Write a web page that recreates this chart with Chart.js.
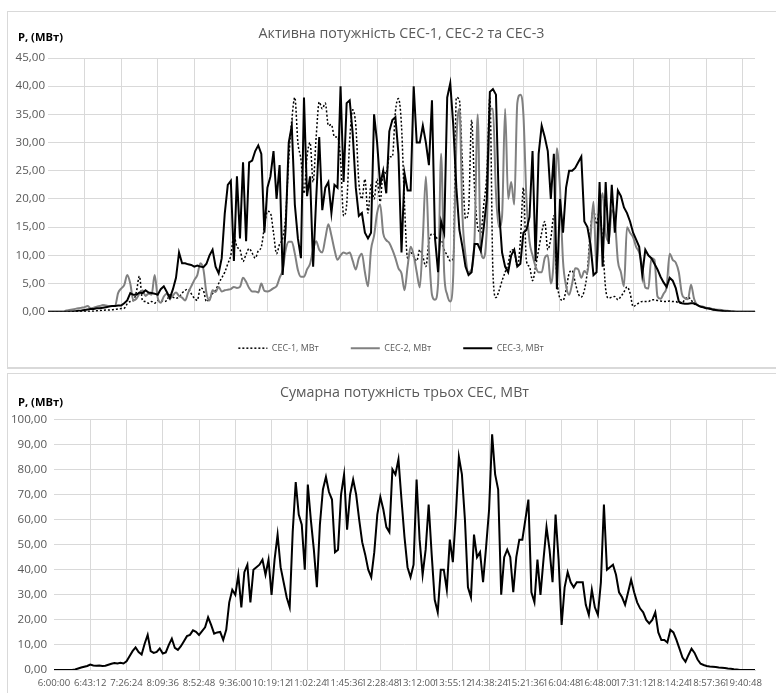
<!DOCTYPE html>
<html><head><meta charset="utf-8">
<script src="https://cdn.jsdelivr.net/npm/chart.js@4.4.1/dist/chart.umd.min.js"></script>
<style>
html,body{margin:0;padding:0;background:#fff;overflow:hidden;width:776px;height:693px;position:relative;}
.box{position:absolute;box-sizing:border-box;border:1px solid #d9d9d9;border-right:none;}
#b1{left:7px;top:11px;width:800px;height:358px;border-bottom-width:2px;}
#b2{left:7px;top:373px;width:800px;height:400px;border-bottom:none;}
canvas{position:absolute;left:0;}
#c1{top:0;}
#c2{top:372px;}
</style></head><body>
<div class="box" id="b1"></div><div class="box" id="b2"></div>
<canvas id="c1" width="790" height="367"></canvas>
<canvas id="c2" width="776" height="321"></canvas>
<script>
// ---------- data (one reading every 3.6 min from 6:00:00) ----------
const tickLabels = ['6:00:00','6:43:12','7:26:24','8:09:36','8:52:48','9:36:00','10:19:12','11:02:24','11:45:36','12:28:48','13:12:00','13:55:12','14:38:24','15:21:36','16:04:48','16:48:00','17:31:12','18:14:24','18:57:36','19:40:48'];
const seriesNames = ['СЕС-1, МВт','СЕС-2, МВт','СЕС-3, МВт'];
const topTitle = 'Активна потужність СЕС-1, СЕС-2 та СЕС-3';
const bottomTitle = 'Сумарна потужність трьох СЕС, МВт';
const unitText = 'P, (МВт)';

const ses1 = [
 0,0,0,0,0,0,0,0,0,0,0,0,
 0,0.05,0.1,0.1,0.15,0.2,0.25,0.3,0.3,0.35,0.4,0.5,
 0.55,0.6,1.4,1.8,2.0,3.5,6.3,2.0,1.8,1.5,1.8,1.5,
 2.0,2.0,1.8,2.0,3.0,2.6,2.4,2.6,3.3,3.8,4.0,3.2,
 2.4,2.0,4.2,3.8,1.8,2.3,3.2,3.8,5.0,6.0,7.0,8.5,
 10.0,13.5,11.5,11,8.9,10.2,11.2,10.4,9.5,10.8,11.5,15,
 17.8,17.5,14,10.3,12,13,17,27,34,38,30,27,
 21,27.5,30,23,31,37.2,36,37,33,33.2,31,31,
 27,17,19,30.4,35.8,33,23,20,23.5,17.5,22.5,20,
 23.5,19.5,25,24.5,27.5,27.5,35.5,37.8,33,18.9,9.5,10.5,
 9.8,9,11,9.8,8,12.5,13.8,13.6,12.8,12.8,11,10,
 9,9.5,38,37.5,26,16.5,18,34,21.5,15,14,19,
 24.5,38,7,2.5,3.7,5.5,7,8.5,11,10.8,8,12.5,
 22,9,8,5.5,8,11,14,16,11,13,17,6,
 2.4,2,3.8,6.8,7.3,5.2,3.2,2.6,3.8,7.3,14.5,18,
 15.5,18,12,4,2.4,2.6,2.7,2.1,2.7,3.5,4.4,3.3,
 0.9,1.2,1.6,1.8,1.8,1.8,2.1,2.1,2.0,1.9,1.8,1.8,
 1.9,1.8,1.8,1.5,1.5,2.2,2.6,2.1,1.4,1.2,0.9,0.8,
 0.6,0.5,0.4,0.3,0.25,0.2,0.15,0.1,0.1,0.05,0,0,
 0,0,0,0,0
];
const ses2 = [
 0,0,0,0,0,0,0.2,0.3,0.4,0.5,0.6,0.7,
 0.8,1.0,0.6,0.7,0.9,1.0,1.2,1.1,1.0,1.0,1.0,3.3,
 4.1,4.7,6.5,5.0,2.0,2.3,3.2,3.8,2.8,3.2,3.0,6.5,
 2.5,1.6,2.7,3.2,2.3,2.9,3.4,2.8,2.5,2.0,3.4,4.5,
 5.6,6.5,8.6,7.5,3.3,2.0,3.8,3.5,4.4,3.6,3.8,3.9,
 4.0,4.4,4.2,4.4,6.0,5.3,4.2,3.6,3.6,3.4,5.0,3.7,
 3.6,3.8,4.2,4.5,6,7.4,11,12.4,12.4,10.3,7.4,6.2,
 6.2,7.5,8.5,11,12.5,11,10.5,13,15.5,13.5,11,9.2,
 10,10.5,10.3,10.5,9,7.5,9.5,10.3,7,4.5,11,13.5,
 17.5,19,13.9,12.7,12.2,11,9.5,7.7,6.8,3.8,8,11.5,
 10,7,4.3,13,24,11,3,2.1,5,28,7,3,
 1.8,6.8,30,36,17,10,7,7.5,13.5,35,11,9.5,
 15,36,36,21,15,17,36,20,23,19,37,38.5,
 35,20,12.5,10,8,7,7,9.5,10,5,10,29,
 22,9,4.6,3,5,7.7,7.5,6,7.2,6.8,13,19.5,
 7.5,16.5,21,14,12.5,18,16.5,9,7,4.5,15,14,
 13.2,11.5,10.5,8,4.3,4.1,9.5,9.2,2.7,2.3,3.2,4.4,
 10.3,9.2,8.7,7,3.2,2.4,2.2,4.8,2.3,1.2,1.0,0.9,
 0.7,0.6,0.5,0.4,0.35,0.3,0.2,0.15,0.1,0.05,0,0,
 0,0,0,0,0
];
const ses3 = [
 0,0,0,0,0,0,0,0,0.05,0.1,0.15,0.2,
 0.3,0.4,0.5,0.5,0.6,0.6,0.7,0.8,0.9,1.0,1.0,1.1,
 1.1,1.5,2.0,3.3,3.0,3.0,3.4,3.3,3.8,3.4,3.3,3.2,
 3.0,4.0,4.5,3.5,2.4,4.0,6.0,10.5,8.6,8.6,8.4,8.3,
 8.0,8.2,8.0,7.9,8.5,10.0,11.0,8.0,6.8,9.5,17.4,22.5,
 23.2,9.0,24.0,13.0,26.5,12.5,26.5,26.8,28.5,29.5,28.0,14.0,
 22,24,28.5,20,26,6.5,15,30,33,19,13,9.5,
 38,20.5,24,8,20,31,18,22,23,17.5,22.5,22,
 40,23,37,37.5,31.5,22,17,17.5,14,13,14,35,
 30,22.5,25,21,32,34,34.5,28,10.5,24.5,21.5,21.5,
 40,30,30,33,30,26,37.5,13,7,16,14,38,
 40.5,33,22,14.5,11.5,8,6.5,7,12,12,10.8,15,
 20,39,39.5,38.5,18,10.5,8,7,10,11,8,8.5,
 14,14.5,16.8,28.5,9,28,33,31,28.5,20,28,4,
 20,14,22,25,25,25.5,26.5,27.5,16,15,12,6.5,
 7,23,8,23,12,22.5,14,21.5,20.5,18.5,17.5,16,
 14,12.8,11.5,6.5,11,10,9.5,8.5,7.5,6.2,5.2,4.4,
 6,5.5,4.2,1.8,1.5,1.4,1.4,1.5,1.5,1.2,0.9,0.8,
 0.6,0.55,0.4,0.3,0.2,0.15,0.1,0.1,0.05,0,0,0,
 0,0,0,0,0
];
const totalPower = [
 0,0,0,0,0,0,0,0.2,0.6,1.0,1.3,1.6,
 2.2,1.8,1.7,1.8,1.6,1.7,2.1,2.5,2.8,2.6,2.9,2.6,
 3.5,5.5,7.5,9.0,7.2,6.2,10.5,14.0,7.5,6.8,7.2,8.6,
 6.6,7.0,10.0,12.5,8.8,8.0,9.5,11.5,13.5,14.0,15.8,15.2,
 14.0,15.5,17.0,21.0,18.0,14.5,15.0,15.2,12.0,16,27,32,
 30,38,25,39,42,27,40,41,42,44,38,44,
 30,44,54,41,35,29,25,55,75,62,58,40,
 74,60,48,33,58,72,77,71,68,47,48,70,
 78,56,70,76,70,60,51,46,40,37,47,62,
 69,64,57,55,80,78,84,68,53,41,37,42,
 76,52,38,48,66,46,28,23,40,40,32,52,
 43,62,85,78,60,33,29,54,45,47,35,49,
 64,94,78,72,30,45,48,45,31,45,52,52,
 60,68,31,27,44,30,44,57,48,35,62,44,
 18,33,39,35,33,35,35,35,26,22,32,25,
 22,35,66,40,41,42,38,31,29,26,31,36,
 31,27,24.5,23,20,18.6,20,23,15,12,12,11,
 16,15,12,8.5,5,3.3,6,8.5,6.8,4.2,2.5,2,
 1.6,1.4,1.3,1.2,1.0,0.9,0.8,0.6,0.5,0.3,0.2,0.05,
 0,0,0,0,0
];

// time categories (axis only)
const STEP_S = 216, PER_TICK = 12;
const categories = [];
for (let i = 0; i < ses1.length; i++) {
  const s = 6 * 3600 + i * STEP_S;
  const h = Math.floor(s / 3600), m = Math.floor((s % 3600) / 60), sec = s % 60;
  categories.push(h + ':' + String(m).padStart(2, '0') + ':' + String(sec).padStart(2, '0'));
}

// ---------- styling ----------
const FONT = "'Open Sans', 'Noto Sans', sans-serif";
const mctx = document.createElement('canvas').getContext('2d');
function fit(text, w, weight) {
  mctx.font = (weight || 'normal') + ' 20px ' + FONT;
  return 20 * w / mctx.measureText(text).width;
}
const titleSize = fit(topTitle, 286);
const legendSize = fit(seriesNames[0], 47);
const yTickSize = fit('45,00', 29.5);
const xTickSize = fit('10:19:12', 38);
const unitSize = fit(unitText, 45, 'bold');
const GRID = '#d9d9d9', TXT = '#595959';
Chart.defaults.font.family = FONT;

const unitLabel = {
  id: 'unitLabel',
  afterDraw(chart, args, o) {
    const c = chart.ctx;
    c.save();
    c.font = 'bold ' + unitSize + 'px ' + FONT;
    c.fillStyle = '#000';
    c.textBaseline = 'middle';
    c.textAlign = 'left';
    c.fillText(o.text, o.x, o.y);
    c.restore();
  }
};

function xAxis(height, pad) {
  return {
    type: 'category',
    offset: false,
    afterBuildTicks: s => { s.ticks = s.ticks.filter(t => t.value % PER_TICK === 0); },
    afterFit: s => { s.height = height; },
    grid: { color: c => (c.tick && c.tick.value === 0) ? 'rgba(0,0,0,0)' : GRID, drawTicks: false, lineWidth: 1 },
    border: { display: true, color: GRID, width: 1 },
    ticks: { autoSkip: false, maxRotation: 0, minRotation: 0, padding: pad, color: TXT,
             font: { size: xTickSize }, callback: v => tickLabels[v / PER_TICK] }
  };
}
function yAxis(max, step, width, pad) {
  return {
    min: 0, max: max,
    afterFit: s => { s.width = width; },
    border: { display: false },
    grid: { color: GRID, drawTicks: false, lineWidth: 1 },
    ticks: { stepSize: step, padding: pad, color: TXT, font: { size: yTickSize },
             callback: v => v.toFixed(2).replace('.', ',') }
  };
}
// empty right-hand spacer axis so the legend centres where the original does
const spacerAxis = {
  position: 'right', display: true, min: 0, max: 1,
  afterFit: s => { s.width = 27; },
  grid: { display: false }, border: { display: false }, ticks: { display: false }
};
const smooth = { pointRadius: 0, pointHoverRadius: 0, fill: false, cubicInterpolationMode: 'monotone' };
const sharp = { pointRadius: 0, pointHoverRadius: 0, fill: false, tension: 0 };

// ---------- top chart ----------
const legendPad = 32;
const legendH = legendSize + legendPad + 10;
new Chart(document.getElementById('c1'), {
  type: 'line',
  data: {
    labels: categories,
    datasets: [
      Object.assign({ label: seriesNames[0], data: ses1, borderColor: '#000', borderWidth: 1.5, borderDash: [2, 2], order: 3 }, smooth),
      Object.assign({ label: seriesNames[1], data: ses2, borderColor: '#808080', borderWidth: 2, order: 2 }, smooth),
      Object.assign({ label: seriesNames[2], data: ses3, borderColor: '#000', borderWidth: 2, order: 1 }, sharp)
    ]
  },
  options: {
    responsive: false, animation: false, devicePixelRatio: 1,
    layout: { padding: { left: 0, right: 8, top: 0, bottom: 367 - 311.7 - legendH } },
    scales: { x: xAxis(0, 7), y: yAxis(45, 5, 48, 3), y2: spacerAxis },
    plugins: {
      tooltip: { enabled: false },
      title: { display: true, fullSize: false, text: topTitle, color: TXT,
               font: { size: titleSize, weight: 'normal' },
               padding: { top: 34 - 0.6 * titleSize, bottom: 24 - 0.6 * titleSize } },
      legend: { position: 'bottom',
                labels: { usePointStyle: true, pointStyle: 'line', pointStyleWidth: 29, padding: legendPad,
                          color: TXT, font: { size: legendSize },
                          sort: (a, b) => a.datasetIndex - b.datasetIndex,
                          generateLabels: chart => {
                            const items = Chart.defaults.plugins.legend.labels.generateLabels(chart);
                            items.forEach(it => {
                              const ds = chart.data.datasets[it.datasetIndex];
                              it.lineDash = ds.borderDash || [];
                              it.lineWidth = ds.borderWidth;
                              it.strokeStyle = ds.borderColor;
                              it.fillStyle = ds.borderColor;
                              it.pointStyle = 'line';
                            });
                            return items;
                          } } },
      unitLabel: { text: unitText, x: 18, y: 37.5 }
    }
  },
  plugins: [unitLabel]
});

// ---------- bottom chart ----------
new Chart(document.getElementById('c2'), {
  type: 'line',
  data: {
    labels: categories,
    datasets: [
      Object.assign({ label: bottomTitle, data: totalPower, borderColor: '#000', borderWidth: 2 }, sharp)
    ]
  },
  options: {
    responsive: false, animation: false, devicePixelRatio: 1,
    layout: { padding: { left: 0, right: 21, top: 0, bottom: 0 } },
    scales: { x: xAxis(23, 8), y: yAxis(100, 10, 54, 7) },
    plugins: {
      tooltip: { enabled: false },
      legend: { display: false },
      title: { display: true, fullSize: false, text: bottomTitle, color: TXT,
               font: { size: titleSize, weight: 'normal' },
               padding: { top: 21 - 0.6 * titleSize, bottom: 47.3 - 21 - 0.6 * titleSize } },
      unitLabel: { text: unitText, x: 18, y: 31 }
    }
  },
  plugins: [unitLabel]
});
</script>
</body></html>
